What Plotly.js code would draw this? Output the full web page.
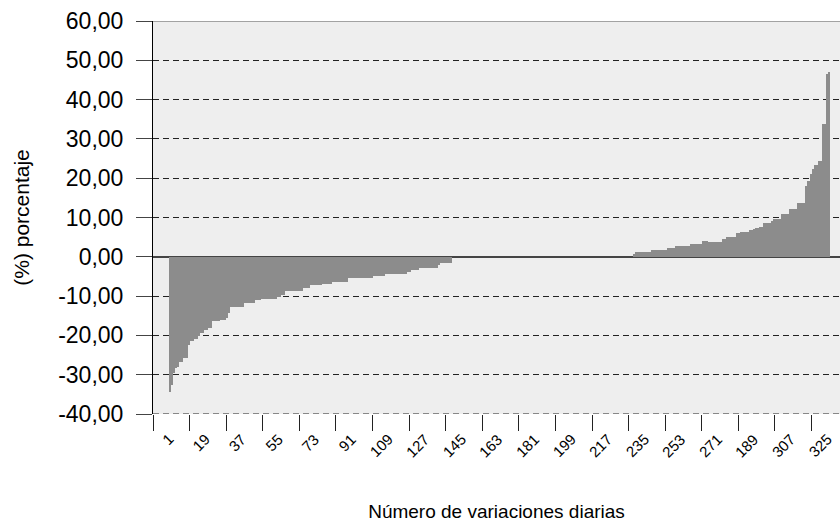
<!DOCTYPE html>
<html>
<head>
<meta charset="utf-8">
<script src="https://cdn.plot.ly/plotly-3.0.1.min.js"></script>
<style>html,body{margin:0;padding:0;background:#fff;}#chart{width:840px;height:522px;}</style>
</head>
<body>
<div id="chart"></div>
<script>
// Daily variations, sorted (values in %)
var negativeValues = [
  -34.4, -32.5, -29.6, -28.4, -28.0, -26.7, -26.7, -25.8, -25.8, -22.4,
  -21.5, -21.5, -20.8, -20.8, -20.2, -19.4, -19.4, -18.7, -18.7, -18.1,
  -18.1, -16.4, -16.4, -16.4, -16.4, -16.0, -16.0, -16.0, -15.6, -14.3,
  -12.8, -12.8, -12.8, -12.8, -12.8, -12.8, -12.8, -11.8, -11.8, -11.8,
  -11.8, -11.8, -10.9, -10.9, -10.9, -10.7, -10.7, -10.7, -10.7, -10.7,
  -10.7, -10.7, -10.7, -10.3, -10.3, -9.6, -9.6, -8.8, -8.8, -8.8,
  -8.8, -8.8, -8.8, -8.8, -8.8, -8.8, -7.9, -7.9, -7.9, -7.25,
  -7.25, -7.25, -7.25, -7.25, -7.25, -6.8, -6.8, -6.8, -6.8, -6.8,
  -6.3, -6.3, -6.3, -6.3, -6.3, -6.3, -6.3, -6.3, -5.5, -5.5,
  -5.5, -5.5, -5.5, -5.5, -5.4, -5.4, -5.4, -5.4, -5.4, -5.4,
  -4.9, -4.9, -4.9, -4.9, -4.9, -4.9, -4.3, -4.3, -4.3, -4.3,
  -4.3, -4.3, -4.3, -4.3, -4.3, -4.3, -4.3, -3.9, -3.9, -3.4,
  -3.4, -3.4, -3.4, -2.75, -2.75, -2.75, -2.75, -2.75, -2.75, -2.75,
  -2.75, -2.75, -2.0, -1.5, -1.5, -1.5, -1.5, -1.5, -1.5
];
var zeroValues = [
  0, 0, 0, 0, 0, 0, 0, 0, 0, 0,
  0, 0, 0, 0, 0, 0, 0, 0, 0, 0,
  0, 0, 0, 0, 0, 0, 0, 0, 0, 0,
  0, 0, 0, 0, 0, 0, 0, 0, 0, 0,
  0, 0, 0, 0, 0, 0, 0, 0, 0, 0,
  0, 0, 0, 0, 0, 0, 0, 0, 0, 0,
  0, 0, 0, 0, 0, 0, 0, 0, 0, 0,
  0, 0, 0, 0, 0, 0, 0, 0, 0, 0,
  0, 0, 0, 0, 0, 0, 0, 0, 0
];
var positiveValues = [
  0.8, 1.2, 1.2, 1.2, 1.2, 1.2, 1.2, 1.2, 1.2, 1.65,
  1.65, 1.65, 1.65, 1.65, 1.65, 1.65, 1.65, 2.15, 2.15, 2.15,
  2.15, 2.67, 2.67, 2.67, 2.67, 2.67, 2.67, 2.67, 3.27, 3.27,
  3.27, 3.27, 3.27, 3.27, 3.9, 3.9, 3.9, 3.85, 3.85, 3.85,
  3.85, 3.8, 3.8, 3.8, 4.45, 4.45, 4.96, 4.96, 4.96, 4.96,
  4.96, 6.15, 6.15, 6.3, 6.3, 6.3, 6.3, 6.75, 6.75, 7.2,
  7.3, 7.4, 7.5, 7.6, 8.5, 8.5, 8.5, 8.5, 9.1, 9.7,
  9.7, 9.7, 9.7, 11.0, 11.0, 11.0, 11.0, 12.1, 12.1, 12.1,
  12.1, 13.6, 13.6, 13.6, 13.6, 18.0, 19.3, 21.0, 22.3, 23.3,
  23.3, 24.4, 24.4, 33.7, 33.7, 46.4, 47.0
];
var values = negativeValues.concat(zeroValues, positiveValues);
var categories = values.map(function (v, i) { return i + 1; });

var xTickValues = [1, 19, 37, 55, 73, 91, 109, 127, 145, 163, 181, 199, 217, 235, 253, 271, 289, 307, 325];
var xTickLabels = ['1', '19', '37', '55', '73', '91', '109', '127', '145', '163', '181', '199', '217', '235', '253', '271', '189', '307', '325'];
var yTickValues = [-40, -30, -20, -10, 0, 10, 20, 30, 40, 50, 60];
var yTickLabels = ['-40,00', '-30,00', '-20,00', '-10,00', '0,00', '10,00', '20,00', '30,00', '40,00', '50,00', '60,00'];

var font = 'Liberation Sans, Arial, Helvetica, sans-serif';
var xRange = [-7.5, 330.5];

var trace = {
  type: 'bar',
  x: categories,
  y: values,
  marker: { color: '#8c8c8c', line: { width: 0 } },
  hoverinfo: 'x+y'
};

// rotated category labels, placed through the x axis scale
var labelAnnotations = xTickValues.map(function (v, i) {
  return {
    x: v, xref: 'x',
    y: 0, yref: 'paper',
    text: xTickLabels[i],
    showarrow: false,
    textangle: -45,
    xanchor: 'right',
    yanchor: 'top',
    xshift: 9,
    yshift: -14,
    font: { family: font, size: 15, color: '#000' }
  };
});

var layout = {
  width: 840,
  height: 522,
  margin: { l: 153, r: 0, t: 21, b: 108 },
  paper_bgcolor: '#ffffff',
  plot_bgcolor: '#eeeeee',
  bargap: 0,
  showlegend: false,
  font: { family: font, size: 18, color: '#000' },
  xaxis: {
    range: xRange,
    tickmode: 'linear',
    tick0: -7.5,
    dtick: 18,
    ticks: 'outside',
    ticklen: 16,
    tickwidth: 1,
    tickcolor: '#222',
    showticklabels: false,
    showgrid: false,
    zeroline: false,
    showline: false,
    title: { text: 'Número de variaciones diarias', font: { family: font, size: 19, color: '#000' }, standoff: 79 },
    automargin: false
  },
  yaxis: {
    range: [-40, 60],
    tickmode: 'array',
    tickvals: yTickValues,
    ticktext: yTickLabels,
    ticks: 'outside',
    ticklen: 16,
    tickwidth: 1,
    tickcolor: '#444',
    ticklabelstandoff: 8,
    tickfont: { family: font, size: 23, color: '#000' },
    showline: true,
    linecolor: '#000',
    linewidth: 1,
    showgrid: true,
    gridcolor: '#222',
    gridwidth: 1,
    griddash: '6px,4px',
    zeroline: true,
    zerolinecolor: '#444',
    zerolinewidth: 2,
    title: { text: '(%) porcentaje', font: { family: font, size: 21, color: '#000' }, standoff: 22 },
    automargin: false
  },
  annotations: labelAnnotations,
  shapes: [
    { type: 'line', xref: 'paper', yref: 'y', x0: 0, x1: 1, y0: 60, y1: 60, line: { color: '#888', width: 1.5 } },
    { type: 'line', xref: 'paper', yref: 'y', x0: 0, x1: 1, y0: -40, y1: -40, line: { color: '#222', width: 1, dash: '6px,4px' } }
  ]
};

Plotly.newPlot('chart', [trace], layout, { displayModeBar: false, staticPlot: true });
</script>
</body>
</html>
